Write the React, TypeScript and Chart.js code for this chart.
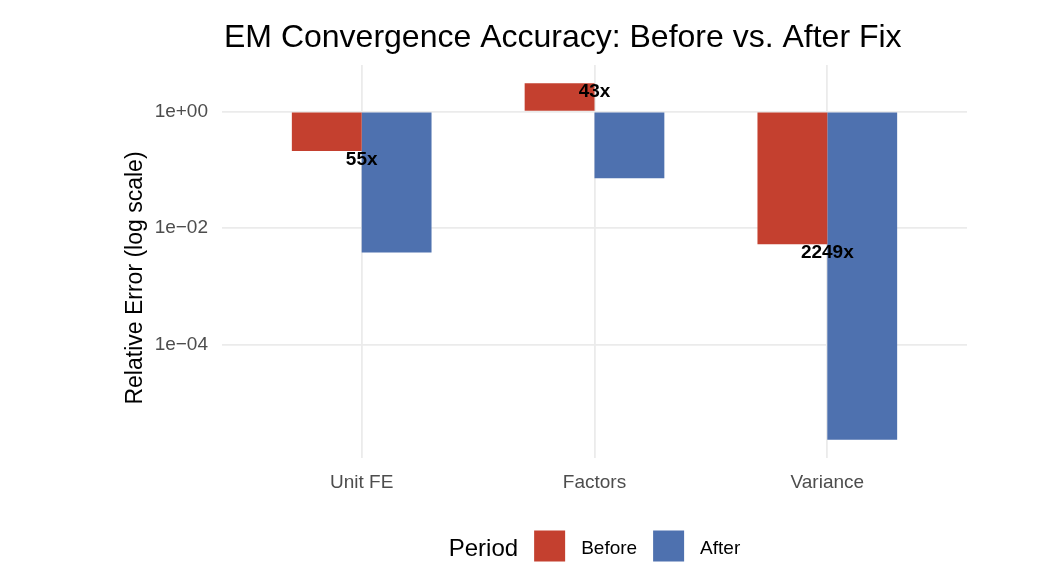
import React, { useEffect, useRef } from "react";
import { Chart, registerables } from "chart.js";

Chart.register(...registerables);

// ---- data ----
const categories = ["Unit FE", "Factors", "Variance"];
const seriesNames = ["Before", "After"];
const beforeErr = [0.212, 3.07, 0.00532];
const afterErr = [0.00383, 0.0721, 2.365e-6];
const ratioLabels = ["55x", "43x", "2249x"];
const yTickValues = [1, 1e-2, 1e-4];
const yTickLabels = ["1e+00", "1e\u221202", "1e\u221204"];

const titleText = "EM Convergence Accuracy: Before vs. After Fix";
const yTitleText = "Relative Error (log scale)";
const legendTitleText = "Period";

const RED = "#C4402F";
const BLUE = "#4E71AF";
const GRID = "#EBEBEB";
const TICK = "#4D4D4D";
const FONT = "'Liberation Sans', Arial, Helvetica, sans-serif";

const textPlugin = {
  id: "textPlugin",
  afterDatasetsDraw(chart: any) {
    const { ctx, scales } = chart;
    const xs = scales.x;
    const ys = scales.y;
    ctx.save();
    ctx.fillStyle = "#000";
    ctx.font = `bold 19px ${FONT}`;
    ctx.textAlign = "center";
    ctx.textBaseline = "middle";
    ratioLabels.forEach((lab, i) => {
      const x = xs.getPixelForValue(i);
      const y = ys.getPixelForValue(beforeErr[i]) + 9;
      ctx.fillText(lab, x, y);
    });
    ctx.restore();
  },
  afterDraw(chart: any) {
    const { ctx, chartArea, data } = chart;
    ctx.save();
    // title
    ctx.fillStyle = "#000";
    ctx.font = `32px ${FONT}`;
    ctx.textAlign = "left";
    ctx.textBaseline = "alphabetic";
    ctx.fillText(titleText, chartArea.left + 2, 47);

    // y axis title
    ctx.save();
    ctx.translate(142, 278);
    ctx.rotate(-Math.PI / 2);
    ctx.font = `23px ${FONT}`;
    ctx.textAlign = "center";
    ctx.fillText(yTitleText, 0, 0);
    ctx.restore();

    // legend
    const box = 31;
    const gap = 16;
    ctx.font = `24px ${FONT}`;
    const tW = ctx.measureText(legendTitleText).width;
    ctx.font = `19px ${FONT}`;
    const itemW = data.datasets.map((d: any) => ctx.measureText(d.label).width);
    let total = tW + gap;
    itemW.forEach((w: number, i: number) => {
      total += box + gap + w + (i < itemW.length - 1 ? gap : 0);
    });
    let x = (chartArea.left + chartArea.right) / 2 - total / 2;
    const cy = 546;
    ctx.fillStyle = "#000";
    ctx.font = `24px ${FONT}`;
    ctx.textAlign = "left";
    ctx.fillText(legendTitleText, x, cy + 9.5);
    x += tW + gap;
    ctx.font = `19px ${FONT}`;
    data.datasets.forEach((d: any, i: number) => {
      ctx.fillStyle = d.backgroundColor;
      ctx.fillRect(x, cy - box / 2, box, box);
      x += box + gap;
      ctx.fillStyle = "#000";
      ctx.fillText(d.label, x, cy + 8);
      x += itemW[i] + gap;
    });
    ctx.restore();
  },
};

export default function App() {
  const ref = useRef<HTMLCanvasElement | null>(null);

  useEffect(() => {
    if (!ref.current) return;
    const chart = new Chart(ref.current, {
      type: "bar",
      data: {
        datasets: [
          {
            label: seriesNames[0],
            data: beforeErr.map((v, i) => ({ x: i, y: v })),
            backgroundColor: RED,
            borderWidth: 0,
            base: 1,
          } as any,
          {
            label: seriesNames[1],
            data: afterErr.map((v, i) => ({ x: i, y: v })),
            backgroundColor: BLUE,
            borderWidth: 0,
            base: 1,
          } as any,
        ],
      },
      options: {
        responsive: true,
        maintainAspectRatio: false,
        animation: false,
        events: [],
        layout: { padding: { left: 0, right: 87, top: 65, bottom: 82 } },
        datasets: { bar: { categoryPercentage: 0.6, barPercentage: 1.0 } },
        plugins: {
          legend: { display: false },
          title: { display: false },
          tooltip: { enabled: false },
        },
        scales: {
          x: {
            type: "linear",
            min: -0.6,
            max: 2.6,
            offset: false,
            afterBuildTicks: (s: any) => {
              s.ticks = categories.map((_, i) => ({ value: i }));
            },
            afterFit: (s: any) => {
              s.height = 40;
            },
            ticks: {
              autoSkip: false,
              maxRotation: 0,
              padding: 13,
              color: TICK,
              font: { family: FONT, size: 19 },
              callback: (v: any) => categories[Math.round(Number(v))] ?? "",
            },
            grid: { color: GRID, lineWidth: 1.8, drawTicks: false, offset: false },
            border: { display: false },
          },
          y: {
            type: "logarithmic",
            min: Math.pow(10, -5.94),
            max: Math.pow(10, 0.8),
            afterBuildTicks: (s: any) => {
              s.ticks = yTickValues.map((v) => ({ value: v }));
            },
            afterFit: (s: any) => {
              s.width = 222;
            },
            ticks: {
              padding: 14,
              color: TICK,
              font: { family: FONT, size: 19 },
              callback: (v: any) => {
                const idx = yTickValues.findIndex(
                  (t) => Math.abs(Math.log10(t) - Math.log10(Number(v))) < 1e-6
                );
                return idx >= 0 ? yTickLabels[idx] : "";
              },
            },
            grid: { color: GRID, lineWidth: 1.8, drawTicks: false },
            border: { display: false },
          },
        },
      } as any,
      plugins: [textPlugin],
    });
    return () => chart.destroy();
  }, []);

  return (
    <div style={{ position: "absolute", left: 0, top: 0, width: 1054, height: 580, background: "#fff" }}>
      <canvas ref={ref} />
    </div>
  );
}
